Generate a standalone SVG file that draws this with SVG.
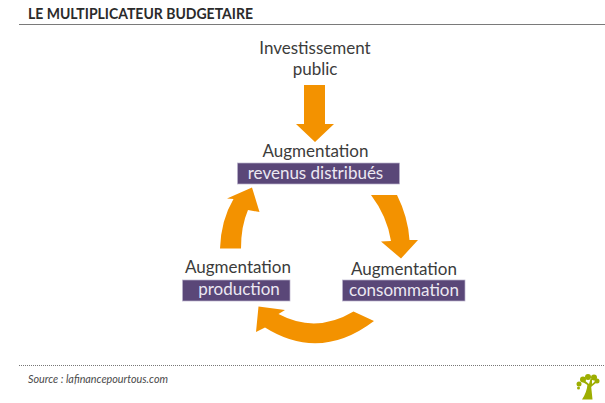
<svg xmlns="http://www.w3.org/2000/svg" width="605" height="403" viewBox="0 0 605 403">
<style>
text{font-family:"Lato","Open Sans",sans-serif}
.t{font-size:17px;fill:#3c3c3b;text-anchor:middle}
.w{font-size:17px;fill:#ece8f2;text-anchor:middle}
.b{fill:#5a4778;stroke:#b9b2cb;stroke-width:.7}
.a{fill:#f39200}
</style>
<rect width="605" height="403" fill="#fff"/>
<g id="header">
<text x="28" y="19" font-size="14.5" font-weight="700" fill="#2b2b2b" textLength="225" lengthAdjust="spacingAndGlyphs">LE MULTIPLICATEUR BUDGETAIRE</text>
<line x1="19" y1="24.5" x2="605" y2="24.5" stroke="#7a7a7a" stroke-width="1.2"/>
</g>
<g id="connectors">
<path class="a" d="M304 85H325V124H334L315 142L296 124H304Z"/>
<path class="a" d="M371 195H397Q408 217 409.5 240H418L401 258.5L381 241.5L391 241Q387 216 371 195Z"/>
<path class="a" d="M374 321Q320 362 265 327.5L256 332L258.5 306.5L285 310L278.5 314Q316 334 353.5 311.5Z"/>
<path class="a" d="M220 248.5H241Q241 226 248 210L259.5 212L252 187.5L227 198.5L233.5 199Q221 220 220 248.5Z"/>
</g>
<g id="node-investissement">
<text class="t" x="315" y="54">Investissement</text>
<text class="t" x="315" y="75">public</text>
</g>
<g id="node-revenus">
<text class="t" x="315.500" y="157">Augmentation</text>
<rect class="b" x="237.500" y="163" width="162" height="21"/>
<text class="w" x="315.500" y="179">revenus distribués</text>
</g>
<g id="node-production">
<text class="t" x="238" y="273">Augmentation</text>
<rect class="b" x="182.500" y="280" width="107.500" height="21"/>
<text class="w" x="239" y="295">production</text>
</g>
<g id="node-consommation">
<text class="t" x="404" y="275">Augmentation</text>
<rect class="b" x="342.500" y="280" width="122.500" height="21"/>
<text class="w" x="404" y="296">consommation</text>
</g>
<g id="footer">
<line x1="19" y1="365.500" x2="605" y2="365.500" stroke="#777" stroke-width="1" stroke-dasharray="1 1"/>
<text x="28" y="383" font-size="10.500" font-style="italic" fill="#4a4a4a" textLength="140" lengthAdjust="spacingAndGlyphs">Source : lafinancepourtous.com</text>
</g>
<g id="logo" fill="#9dae00">
<path d="M582 399.500Q587 392 587.500 384L589.500 384L591 385L592.500 399.500Z"/>
<path d="M589 386L582 381.500L584 380L589 384L590.500 379L592 379L592 384L595.500 381L596.500 382.500L591 387Z"/>
<circle cx="583" cy="379.500" r="3"/><circle cx="579" cy="384" r="2.500"/><circle cx="588" cy="377" r="3"/><circle cx="594" cy="377.500" r="3"/><circle cx="597" cy="381" r="2.500"/><circle cx="578.500" cy="388" r="1.500"/>
</g>
</svg>
